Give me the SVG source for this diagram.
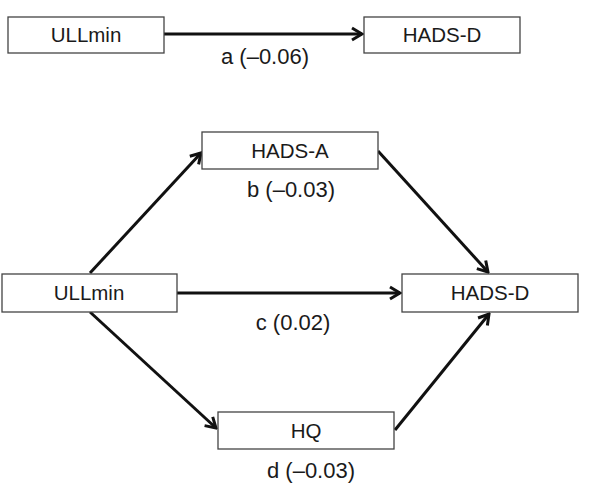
<svg xmlns="http://www.w3.org/2000/svg" width="589" height="498" viewBox="0 0 589 498">
<style>
.box{fill:#fff;stroke:#444;stroke-width:1.3}
.nt{font-family:"Liberation Sans",Arial,sans-serif;font-size:20.5px;fill:#1a1a1a;text-anchor:middle}
.lt{font-family:"Liberation Sans",Arial,sans-serif;font-size:22px;fill:#1a1a1a;text-anchor:middle}
.edge{stroke:#111;stroke-width:3;fill:none;marker-end:url(#ah)}
</style>
<defs>
<marker id="ah" markerUnits="userSpaceOnUse" viewBox="-12 -8 14 16" refX="0" refY="0" markerWidth="14" markerHeight="16" orient="auto">
<path d="M-10,-6 L0,0 L-10,6" fill="none" stroke="#111" stroke-width="3"/>
</marker>
</defs>
<g id="connectors">
<line class="edge" x1="164" y1="34" x2="362" y2="34"/>
<line class="edge" x1="90" y1="273" x2="201" y2="153"/>
<line class="edge" x1="378" y1="151" x2="488" y2="272"/>
<line class="edge" x1="177" y1="293" x2="400" y2="293"/>
<line class="edge" x1="90" y1="312" x2="216" y2="428"/>
<line class="edge" x1="395" y1="430" x2="489" y2="314"/>
</g>
<g id="top-ullmin"><rect class="box" x="8" y="17" width="156" height="36"/><text class="nt" x="86" y="42">ULLmin</text></g>
<g id="top-hadsd"><rect class="box" x="364" y="17" width="156" height="36"/><text class="nt" x="442" y="42">HADS-D</text></g>
<g id="label-a"><text class="lt" x="265" y="64">a (–0.06)</text></g>
<g id="ullmin"><rect class="box" x="2" y="274" width="175" height="38"/><text class="nt" x="89" y="300">ULLmin</text></g>
<g id="hadsa"><rect class="box" x="202" y="132" width="176" height="37"/><text class="nt" x="290" y="158">HADS-A</text></g>
<g id="hadsd"><rect class="box" x="402" y="274" width="176" height="38"/><text class="nt" x="490" y="300">HADS-D</text></g>
<g id="hq"><rect class="box" x="218" y="412" width="176" height="37"/><text class="nt" x="306" y="438">HQ</text></g>
<g id="label-b"><text class="lt" x="291" y="197">b (–0.03)</text></g>
<g id="label-c"><text class="lt" x="293" y="330">c (0.02)</text></g>
<g id="label-d"><text class="lt" x="311" y="478">d (–0.03)</text></g>
</svg>
